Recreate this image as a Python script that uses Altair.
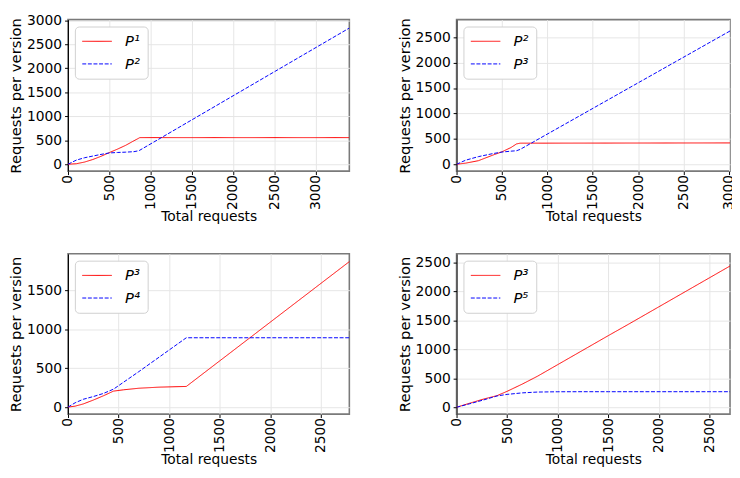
import altair as alt
import pandas as pd

# ---------------- data ----------------
# Panel 1 (top-left): P1 vs P2
p1_x = [0, 100, 200, 300, 400, 500, 600, 700, 800, 860, 870, 3410]
p1_a = [0, 10, 45, 98, 165, 242, 315, 395, 490, 545, 555, 555]
p1_b = [0, 85, 135, 170, 205, 235, 245, 252, 262, 282, 292, 2840]
p1_names = ["P¹", "P²"]

# Panel 2 (top-right): P2 vs P3
p2_x = [0, 100, 240, 400, 500, 600, 660, 700, 3020]
p2_a = [0, 22, 70, 180, 245, 330, 400, 415, 420]
p2_b = [0, 80, 150, 210, 240, 258, 266, 292, 2630]
p2_names = ["P²", "P³"]

# Panel 3 (bottom-left): P3 vs P4
p3_x = [0, 70, 150, 250, 350, 450, 550, 700, 900, 1170, 2790]
p3_a = [0, 12, 40, 90, 145, 205, 222, 242, 256, 265, 1875]
p3_b = [0, 55, 100, 135, 175, 230, 320, 455, 640, 890, 890]
p3_names = ["P³", "P⁴"]

# Panel 4 (bottom-right): P3 vs P5
p4_x = [0, 130, 265, 400, 500, 650, 800, 1000, 1250, 1500, 1700, 2720]
p4_a = [0, 70, 140, 200, 275, 400, 535, 735, 985, 1235, 1432, 2452]
p4_b = [0, 60, 125, 195, 222, 248, 262, 267, 268, 268, 268, 268]
p4_names = ["P³", "P⁵"]

x_title = "Total requests"
y_title = "Requests per version"


def panel(xs, ya, yb, names, xdom, ydom, xticks, yticks, w, h):
    df = pd.DataFrame({
        "x": xs + xs,
        "y": ya + yb,
        "s": [names[0]] * len(xs) + [names[1]] * len(xs),
    })
    return alt.Chart(df).mark_line(strokeWidth=1, clip=True).encode(
        x=alt.X("x:Q", scale=alt.Scale(domain=xdom, nice=False, zero=False),
                axis=alt.Axis(values=xticks, title=x_title, format="d")),
        y=alt.Y("y:Q", scale=alt.Scale(domain=ydom, nice=False, zero=False),
                axis=alt.Axis(values=yticks, title=y_title, format="d")),
        color=alt.Color("s:N", scale=alt.Scale(domain=names, range=["#ff0000", "#0000ff"]),
                        legend=alt.Legend(title=None)),
        strokeDash=alt.StrokeDash("s:N", scale=alt.Scale(domain=names, range=[[1, 0], [4, 1.7]]),
                                  legend=alt.Legend(title=None)),
    ).properties(width=w, height=h)


c1 = panel(p1_x, p1_a, p1_b, p1_names, [0, 3410], [-144, 3015],
           [0, 500, 1000, 1500, 2000, 2500, 3000], [0, 500, 1000, 1500, 2000, 2500, 3000], 286, 154)
c2 = panel(p2_x, p2_a, p2_b, p2_names, [0, 3012], [-135, 2845],
           [0, 500, 1000, 1500, 2000, 2500, 3000], [0, 500, 1000, 1500, 2000, 2500], 278, 154)
c3 = panel(p3_x, p3_a, p3_b, p3_names, [0, 2782], [-90, 1968],
           [0, 500, 1000, 1500, 2000, 2500], [0, 500, 1000, 1500], 286, 163)
c4 = panel(p4_x, p4_a, p4_b, p4_names, [0, 2702], [-118, 2645],
           [0, 500, 1000, 1500, 2000, 2500], [0, 500, 1000, 1500, 2000, 2500], 278, 163)

top = alt.hconcat(c1, c2, spacing=47).resolve_scale(color="independent", strokeDash="independent")
bottom = alt.hconcat(c3, c4, spacing=47).resolve_scale(color="independent", strokeDash="independent")

chart = alt.vconcat(top, bottom, spacing=29).resolve_scale(
    color="independent", strokeDash="independent"
).properties(
    padding={"left": 0, "top": 0, "right": -5, "bottom": 0}
).configure(
    font="DejaVu Sans"
).configure_view(
    stroke="#7a7a7a", strokeWidth=1.6
).configure_axis(
    labelFont="DejaVu Sans", labelFontSize=14, labelColor="black",
    titleFont="DejaVu Sans", titleFontWeight="normal", titleColor="black",
    tickColor="black", tickSize=3.5, tickWidth=1,
    gridColor="#e6e6e6", gridWidth=1, domain=False, labelPadding=3,
).configure_axisX(
    labelAngle=270, titleFontSize=14, labelPadding=0, titlePadding=0,
).configure_axisY(
    titleFontSize=15, titlePadding=3, domain=True, domainColor="black", domainWidth=1,
).configure_legend(
    orient="top-left", offset=7, padding=7, cornerRadius=4,
    strokeColor="#d0d0d0", fillColor="white",
    symbolType="M-1,0H3", symbolSize=225, symbolStrokeWidth=1,
    labelFont="DejaVu Sans", labelFontSize=15, labelFontStyle="italic",
    labelColor="black", labelOffset=28, rowPadding=7,
)

chart.save("out.html", embed_options={"renderer": "svg", "actions": False})
